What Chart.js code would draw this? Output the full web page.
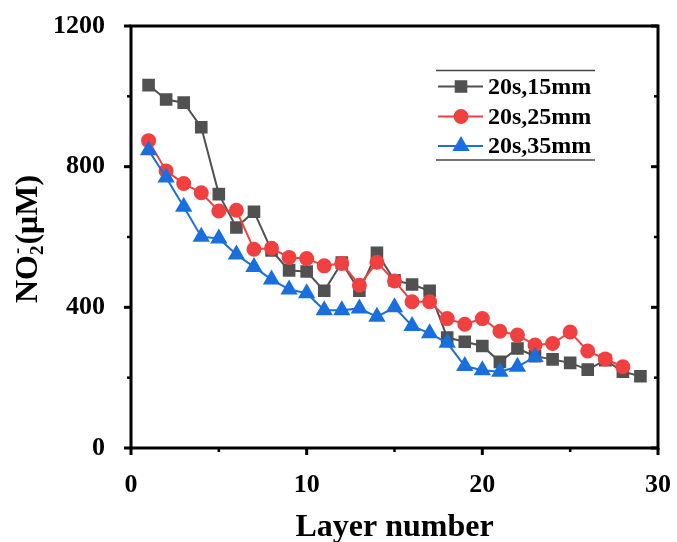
<!DOCTYPE html>
<html>
<head>
<meta charset="utf-8">
<script src="https://cdn.jsdelivr.net/npm/chart.js@4.4.0/dist/chart.umd.min.js"></script>
<style>
  body { margin: 0; background: #fff; }
  canvas { display: block; }
</style>
</head>
<body>
<canvas id="chart-no2" width="677" height="542"></canvas>
<script>
// layer numbers (x) for each run
const layers15 = [1, 2, 3, 4, 5, 6, 7, 8, 9, 10, 11, 12, 13, 14, 15, 16, 17, 18, 19, 20, 21, 22, 23, 24, 25, 26, 27, 28, 29];
const layers25 = [1, 2, 3, 4, 5, 6, 7, 8, 9, 10, 11, 12, 13, 14, 15, 16, 17, 18, 19, 20, 21, 22, 23, 24, 25, 26, 27, 28];
const layers35 = [1, 2, 3, 4, 5, 6, 7, 8, 9, 10, 11, 12, 13, 14, 15, 16, 17, 18, 19, 20, 21, 22, 23];

// NO2- concentration (uM)
const no2_15mm = [1032, 991, 982, 912, 722, 627, 672, 562, 505, 502, 447, 527, 447, 555, 477, 465, 447, 314, 302, 290, 245, 283, 261, 252, 242, 223, 250, 217, 204];
const no2_25mm = [874, 788, 752, 726, 674, 676, 565, 568, 542, 539, 518, 525, 463, 528, 475, 416, 416, 368, 352, 368, 332, 321, 293, 297, 330, 276, 253, 231];
const no2_35mm = [847, 769, 686, 601, 596, 550, 515, 479, 451, 440, 392, 392, 397, 373, 400, 347, 326, 299, 233, 221, 217, 231, 259];

const seriesLabels = ['20s,15mm', '20s,25mm', '20s,35mm'];

const xTicksMajor = [0, 10, 20, 30];
const xTicksMinor = [5, 15, 25];
const yTicksMajor = [0, 400, 800, 1200];
const yTicksMinor = [200, 600, 1000];

const SERIF = '"Liberation Serif", "Times New Roman", serif';

function toPoints(xs, ys) {
    return xs.map((x, i) => ({ x: x, y: ys[i] }));
}

function mark(ctx, style, r, x, y) {
    if (Chart.helpers && Chart.helpers.drawPoint) {
        Chart.helpers.drawPoint(ctx, { pointStyle: style, radius: r, rotation: 0, borderWidth: 1 }, x, y);
    }
}

// frame, ticks, legend and the y title with sub/superscript
const decorations = {
    id: 'decorations',
    afterDraw(chart) {
        const ctx = chart.ctx;
        const a = chart.chartArea;
        const xs = chart.scales.x, ys = chart.scales.y;
        ctx.save();

        // frame
        ctx.strokeStyle = '#000';
        ctx.lineWidth = 3;
        ctx.lineCap = 'square';
        ctx.strokeRect(a.left, a.top, a.right - a.left, a.bottom - a.top);

        // ticks
        ctx.lineCap = 'butt';
        const tick = (x1, y1, x2, y2, w) => {
            ctx.lineWidth = w;
            ctx.beginPath(); ctx.moveTo(x1, y1); ctx.lineTo(x2, y2); ctx.stroke();
        };
        xTicksMajor.forEach(v => { const p = xs.getPixelForValue(v); tick(p, a.bottom, p, a.bottom + 7, 3); });
        xTicksMinor.forEach(v => { const p = xs.getPixelForValue(v); tick(p, a.bottom, p, a.bottom + 4, 2.5); });
        yTicksMajor.forEach(v => {
            const p = ys.getPixelForValue(v);
            tick(a.left - 7, p, a.left, p, 3);
            tick(a.right, p, a.right - 7, p, 3);
        });
        yTicksMinor.forEach(v => {
            const p = ys.getPixelForValue(v);
            tick(a.left - 4, p, a.left, p, 2.5);
            tick(a.right, p, a.right - 4, p, 2.5);
        });

        // legend
        ctx.strokeStyle = '#444';
        tick(436, 70.5, 595, 70.5, 1.5);
        tick(436, 160, 595, 160, 1.5);
        const rows = [86.5, 116.5, 146];
        [0, 1, 2].forEach(i => {
            const ds = chart.data.datasets[i];
            const y = rows[i];
            ctx.strokeStyle = ds.borderColor;
            tick(438, y, 483, y, 2);
            ctx.fillStyle = ds.pointBackgroundColor;
            ctx.strokeStyle = ds.pointBorderColor;
            mark(ctx, ds.pointStyle, ds.pointRadius, 461, y);
            ctx.fillStyle = '#000';
            ctx.font = 'bold 24px ' + SERIF;
            ctx.textAlign = 'left';
            ctx.textBaseline = 'middle';
            ctx.fillText(ds.label, 488, y + 1);
        });

        // y title: NO2- (uM), rotated
        ctx.translate(37, 239);
        ctx.rotate(-Math.PI / 2);
        ctx.fillStyle = '#000';
        ctx.textAlign = 'left';
        ctx.textBaseline = 'alphabetic';
        const big = 'bold 32px ' + SERIF, small = 'bold 19px ' + SERIF;
        ctx.font = big;
        const wNO = ctx.measureText('NO').width;
        const wRest = ctx.measureText('(μM)').width;
        ctx.font = small;
        const wSub = ctx.measureText('2').width;
        let x0 = -(wNO + wSub + 1 + wRest) / 2;
        ctx.font = big;
        ctx.fillText('NO', x0, 0);
        x0 += wNO;
        ctx.font = small;
        ctx.fillText('2', x0, 6);
        ctx.fillText('-', x0 + 1, -14);
        x0 += wSub + 1;
        ctx.font = big;
        ctx.fillText('(μM)', x0, 0);

        ctx.restore();
    }
};

new Chart(document.getElementById('chart-no2'), {
    type: 'line',
    data: {
        datasets: [
            {
                label: seriesLabels[0], data: toPoints(layers15, no2_15mm),
                borderColor: '#515151', backgroundColor: '#515151',
                pointBackgroundColor: '#515151', pointBorderColor: '#515151',
                pointStyle: 'rect', pointRadius: 7.5, borderWidth: 2, order: 3
            },
            {
                label: seriesLabels[1], data: toPoints(layers25, no2_25mm),
                borderColor: '#F14040', backgroundColor: '#F14040',
                pointBackgroundColor: '#F14040', pointBorderColor: '#F14040',
                pointStyle: 'circle', pointRadius: 6.5, borderWidth: 2, order: 2
            },
            {
                label: seriesLabels[2], data: toPoints(layers35, no2_35mm),
                borderColor: '#1A6FDF', backgroundColor: '#1A6FDF',
                pointBackgroundColor: '#1A6FDF', pointBorderColor: '#1A6FDF',
                pointStyle: 'triangle', pointRadius: 8, borderWidth: 2, order: 1
            }
        ]
    },
    options: {
        responsive: false,
        animation: false,
        layout: { padding: { left: 0, right: 19, top: 26, bottom: 0 } },
        plugins: { legend: { display: false }, tooltip: { enabled: false } },
        scales: {
            x: {
                type: 'linear', min: 0, max: 30,
                ticks: {
                    stepSize: 10, padding: 14, color: '#000',
                    font: { family: SERIF, size: 26, weight: 'bold' },
                    callback: v => String(v)
                },
                grid: { display: false },
                border: { display: false },
                title: {
                    display: true, text: 'Layer number', color: '#000', padding: { top: 0, bottom: -2 },
                    font: { family: SERIF, size: 32, weight: 'bold', lineHeight: 1 }
                },
                afterFit(scale) {
                    scale.height = 94;
                    scale.paddingLeft = 0;
                    scale.paddingRight = 0;
                }
            },
            y: {
                min: 0, max: 1200,
                ticks: {
                    stepSize: 400, padding: 18, color: '#000',
                    font: { family: SERIF, size: 26, weight: 'bold' },
                    callback: v => String(v)
                },
                grid: { display: false },
                border: { display: false },
                afterFit(scale) {
                    scale.width = 131;
                    scale.paddingTop = 0;
                    scale.paddingBottom = 0;
                }
            }
        }
    },
    plugins: [decorations]
});
</script>
</body>
</html>
